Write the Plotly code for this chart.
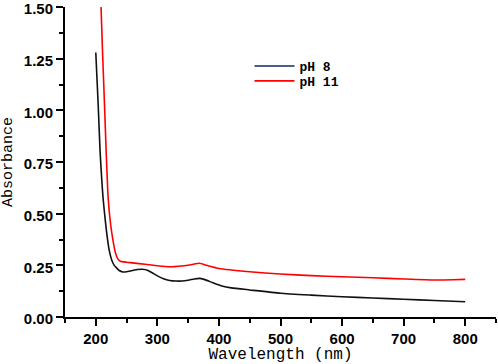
import plotly.graph_objects as go

# pH 8 spectrum
wl_ph8 = [200, 202, 204, 207, 210, 212, 215, 218, 222, 226, 230, 233, 238, 244, 250,
          258, 268, 276, 284, 292, 300, 310, 320, 330, 340, 350, 360, 368, 376, 390,
          405, 420, 450, 500, 550, 600, 650, 700, 750, 800]
abs_ph8 = [1.28, 1.15, 1.02, 0.80, 0.65, 0.57, 0.48, 0.40, 0.32, 0.275, 0.25, 0.24, 0.225, 0.218, 0.219,
           0.224, 0.230, 0.231, 0.226, 0.213, 0.199, 0.185, 0.177, 0.174, 0.174, 0.178, 0.184, 0.187, 0.182, 0.166,
           0.150, 0.141, 0.131, 0.115, 0.106, 0.098, 0.092, 0.086, 0.080, 0.074]

# pH 11 spectrum
wl_ph11 = [200, 204, 208, 211, 214, 217, 220, 224, 228, 232, 236, 240, 250, 260, 280,
           300, 320, 340, 355, 368, 380, 400, 450, 500, 550, 600, 650, 700, 750, 780, 800]
abs_ph11 = [2.20, 1.88, 1.55, 1.28, 1.04, 0.79, 0.58, 0.45, 0.37, 0.31, 0.28, 0.27, 0.265, 0.262, 0.255,
            0.248, 0.243, 0.247, 0.253, 0.260, 0.250, 0.235, 0.219, 0.208, 0.200, 0.195, 0.190, 0.184, 0.179, 0.180, 0.182]

x_ticks = [200, 300, 400, 500, 600, 700, 800]
y_ticks = [0.0, 0.25, 0.5, 0.75, 1.0, 1.25, 1.5]

fig = go.Figure()
fig.add_trace(go.Scatter(x=wl_ph8, y=abs_ph8, mode="lines", name="pH 8",
                         line=dict(color="#111111", width=1.6, shape="spline", smoothing=0.5),
                         showlegend=False))
fig.add_trace(go.Scatter(x=[None], y=[None], mode="lines", name="pH 8",
                         line=dict(color="#0c2d5a", width=1.6), legend="legend"))
fig.add_trace(go.Scatter(x=wl_ph11, y=abs_ph11, mode="lines", name="pH 11",
                         line=dict(color="#ff0000", width=1.6, shape="spline", smoothing=0.5),
                         legend="legend2"))

tickfont = dict(family="Liberation Sans, Arial", size=15, color="black", weight="bold")
titlefont = dict(family="Liberation Mono, Courier New", size=16, color="black")
legfont = dict(family="Liberation Mono, Courier New", size=13, color="black", weight="bold")

fig.update_layout(
    width=498, height=364,
    margin=dict(l=65, r=2, t=7, b=47, autoexpand=False),
    paper_bgcolor="white", plot_bgcolor="white",
    showlegend=True,
    legend=dict(x=0.428, y=0.858, xanchor="left", yanchor="top",
                bgcolor="rgba(0,0,0,0)", font=legfont, itemwidth=40),
    legend2=dict(x=0.428, y=0.81, xanchor="left", yanchor="top",
                 bgcolor="rgba(0,0,0,0)", font=legfont, itemwidth=40),
    xaxis=dict(range=[150, 850], tickvals=x_ticks, showgrid=False, zeroline=False,
               showline=True, linecolor="black", linewidth=2, automargin=False,
               ticks="outside", ticklen=7, tickwidth=2, tickcolor="black",
               ticklabeloverflow="allow",
               minor=dict(dtick=50, tick0=150, ticks="outside", ticklen=4, tickwidth=1.5, tickcolor="black"),
               tickfont=tickfont,
               title=dict(text="Wavelength (nm)", font=titlefont, standoff=4)),
    yaxis=dict(range=[0, 1.5], tickvals=y_ticks, tickformat=".2f", showgrid=False, zeroline=False,
               showline=True, linecolor="black", linewidth=2, automargin=False,
               ticks="outside", ticklen=7, tickwidth=2, tickcolor="black",
               ticklabeloverflow="allow", ticklabelshift=2,
               minor=dict(dtick=0.125, tick0=0, ticks="outside", ticklen=4, tickwidth=1.5, tickcolor="black"),
               tickfont=tickfont,
               title=dict(text="Absorbance", font=dict(family="Liberation Mono, Courier New", size=15, color="black"),
                          standoff=21)),
)

# remove the browser's default 8px page margin so the figure sits at the window's corner
fig.write_html("out.html", config={"displayModeBar": False},
               post_script="document.body.style.margin='0';")
